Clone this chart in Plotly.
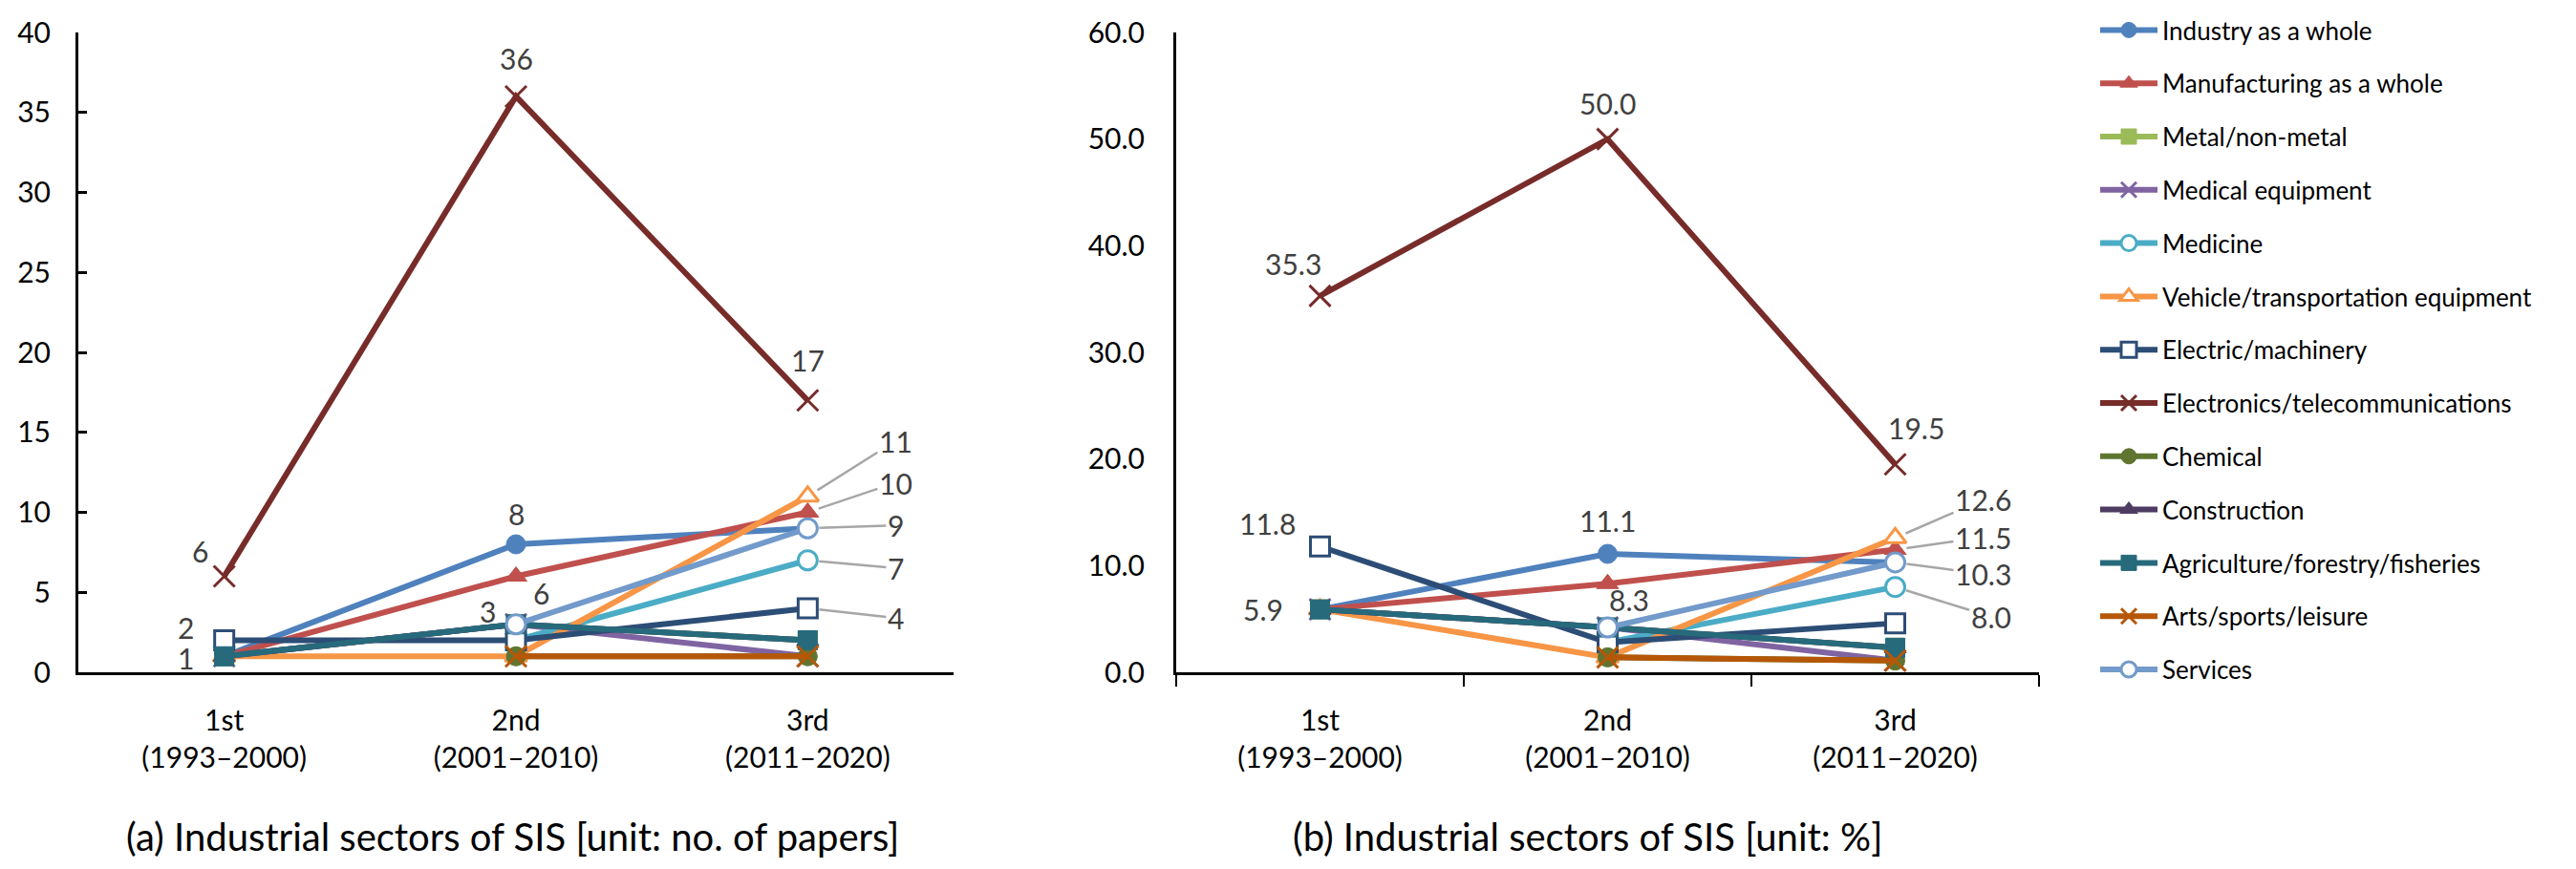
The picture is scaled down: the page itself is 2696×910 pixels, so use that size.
import plotly.graph_objects as go
from plotly.subplots import make_subplots

# periods on the x axis
periods = ["1st<br>(1993–2000)", "2nd<br>(2001–2010)", "3rd<br>(2011–2020)"]

sectors = [
    "Industry as a whole",
    "Manufacturing as a whole",
    "Metal/non-metal",
    "Medical equipment",
    "Medicine",
    "Vehicle/transportation equipment",
    "Electric/machinery",
    "Electronics/telecommunications",
    "Chemical",
    "Construction",
    "Agriculture/forestry/fisheries",
    "Arts/sports/leisure",
    "Services",
]

# (a) number of papers per period
n_industry = [1, 8, 9]
n_manufacturing = [1, 6, 10]
n_metal = [1, 3, 2]
n_medical = [1, 3, 1]
n_medicine = [None, 2, 7]
n_vehicle = [1, 1, 11]
n_electric = [2, 2, 4]
n_electronics = [6, 36, 17]
n_chemical = [None, 1, 1]
n_construction = [1, 3, 2]
n_agriculture = [1, 3, 2]
n_arts = [None, 1, 1]
n_services = [None, 3, 9]

# (b) share of papers per period [%]
p_industry = [5.9, 11.1, 10.3]
p_manufacturing = [5.9, 8.3, 11.5]
p_metal = [5.9, 4.2, 2.3]
p_medical = [5.9, 4.2, 1.1]
p_medicine = [None, 2.8, 8.0]
p_vehicle = [5.9, 1.4, 12.6]
p_electric = [11.8, 2.8, 4.6]
p_electronics = [35.3, 50.0, 19.5]
p_chemical = [None, 1.4, 1.1]
p_construction = [5.9, 4.2, 2.3]
p_agriculture = [5.9, 4.2, 2.3]
p_arts = [None, 1.4, 1.1]
p_services = [None, 4.2, 10.3]

counts = [n_industry, n_manufacturing, n_metal, n_medical, n_medicine, n_vehicle,
          n_electric, n_electronics, n_chemical, n_construction, n_agriculture,
          n_arts, n_services]
shares = [p_industry, p_manufacturing, p_metal, p_medical, p_medicine, p_vehicle,
          p_electric, p_electronics, p_chemical, p_construction, p_agriculture,
          p_arts, p_services]

# line colour, marker symbol, hollow marker?
styles = [
    ("#4F81BD", "circle", False),
    ("#C0504D", "triangle-up", False),
    ("#9BBB59", "square", False),
    ("#8064A2", "x-thin", False),
    ("#4BACC6", "circle", True),
    ("#F79646", "triangle-up", True),
    ("#2C4D75", "square", True),
    ("#772C2A", "x-thin", False),
    ("#5F7530", "circle", False),
    ("#4D3B62", "triangle-up", False),
    ("#276A7C", "square", False),
    ("#B65708", "x-thin", False),
    ("#729ACA", "circle", True),
]

font = "Lato, 'Open Sans', sans-serif"
W, H = 2696, 910

fig = make_subplots(rows=1, cols=2)

for col, data in ((1, counts), (2, shares)):
    for name, ys, (color, symbol, hollow) in zip(sectors, data, styles):
        if symbol == "x-thin":
            marker = dict(symbol=symbol, size=22, line=dict(color=color, width=3))
        elif hollow:
            marker = dict(symbol=symbol, size=20, color="white",
                          line=dict(color=color, width=3))
        else:
            marker = dict(symbol=symbol, size=20, color=color,
                          line=dict(color=color, width=1))
        fig.add_trace(
            go.Scatter(
                x=periods, y=ys, name=name, mode="lines+markers",
                line=dict(color=color, width=6), marker=marker,
                legendgroup=name, showlegend=(col == 2),
                connectgaps=False,
            ),
            row=1, col=col,
        )

# data labels: (panel, series index, period index, dx, dy, leader line?)
labels = [
    (1, 7, 0, -25, -27, False), (1, 6, 0, -40, -14, False), (1, 10, 0, -40, 2, False),
    (1, 7, 1, 0, -40, False), (1, 0, 1, 0, -32, False), (1, 1, 1, 26, 17, False),
    (1, 12, 1, -30, -14, False), (1, 7, 2, 0, -42, False),
    (1, 5, 2, 92, -58, True), (1, 1, 2, 92, -31, True), (1, 12, 2, 92, -3, True),
    (1, 4, 2, 92, 8, True), (1, 6, 2, 92, 10, True),
    (2, 7, 0, -28, -34, False), (2, 6, 0, -55, -24, False), (2, 10, 0, -60, 0, False),
    (2, 7, 1, 0, -38, False), (2, 0, 1, 0, -35, False), (2, 1, 1, 22, 17, False),
    (2, 7, 2, 22, -38, False),
    (2, 5, 2, 92, -40, True), (2, 1, 2, 92, -13, True), (2, 12, 2, 92, 12, True),
    (2, 4, 2, 100, 31, True),
]
for panel, si, pi, dx, dy, leader in labels:
    val = (counts if panel == 1 else shares)[si][pi]
    text = f"{val:.0f}" if panel == 1 else f"{val:.1f}"
    xr, yr = ("x", "y") if panel == 1 else ("x2", "y2")
    common = dict(x=periods[pi], y=val, xref=xr, yref=yr, text=text,
                  font=dict(family=font, size=30, color="#404040"))
    if leader:
        fig.add_annotation(**common, showarrow=True, ax=dx, ay=dy, arrowhead=0,
                           arrowwidth=2.5, arrowcolor="#A6A6A6", standoff=12,
                           xanchor="center", yanchor="middle")
    else:
        fig.add_annotation(**common, showarrow=False, xshift=dx, yshift=-dy)

# panel captions
caption_font = dict(family=font, size=40, color="black")
fig.add_annotation(x=528 / W, y=1 - 868 / H, xref="paper", yref="paper",
                   xanchor="center", yanchor="middle",
                   text="(a) Industrial sectors of SIS [unit: no. of papers]",
                   showarrow=False, font=caption_font)
fig.add_annotation(x=1653 / W, y=1 - 868 / H, xref="paper", yref="paper",
                   xanchor="center", yanchor="middle",
                   text="(b) Industrial sectors of SIS [unit: %]",
                   showarrow=False, font=caption_font)

y_dom = [1 - 696 / H, 1 - 26 / H]
tick_font = dict(family=font, size=30, color="black")

fig.update_xaxes(type="category", range=[-0.5, 2.5], showgrid=False,
                 showline=True, linecolor="black", linewidth=3,
                 tickfont=tick_font, ticklabelstandoff=22, fixedrange=True)
fig.layout.xaxis.update(domain=[74 / W, 990 / W], ticks="")
fig.layout.xaxis2.update(domain=[1223 / W, 2126 / W], ticks="outside",
                         tickson="boundaries", ticklen=12, tickwidth=2,
                         tickcolor="black")

fig.update_yaxes(showgrid=False, zeroline=False, showline=True,
                 linecolor="black", linewidth=3, tickfont=tick_font,
                 domain=y_dom)
fig.layout.yaxis.update(range=[0, 40], dtick=5, ticks="inside", ticklen=9,
                        tickwidth=3, tickcolor="black", ticklabelstandoff=20)
fig.layout.yaxis2.update(range=[0, 60], dtick=10, tickformat=".1f", ticks="",
                         ticklabelstandoff=24)

fig.update_layout(
    width=W, height=H,
    margin=dict(l=0, r=0, t=0, b=0, autoexpand=False),
    paper_bgcolor="white", plot_bgcolor="white",
    font=dict(family=font, color="black"),
    legend=dict(x=2185 / W, y=1.0, xanchor="left", yanchor="top", maxheight=905,
                font=dict(family=font, size=26, color="black"),
                traceorder="grouped", tracegroupgap=19, itemwidth=60,
                bgcolor="rgba(0,0,0,0)"),
)

fig.write_html("out.html")
